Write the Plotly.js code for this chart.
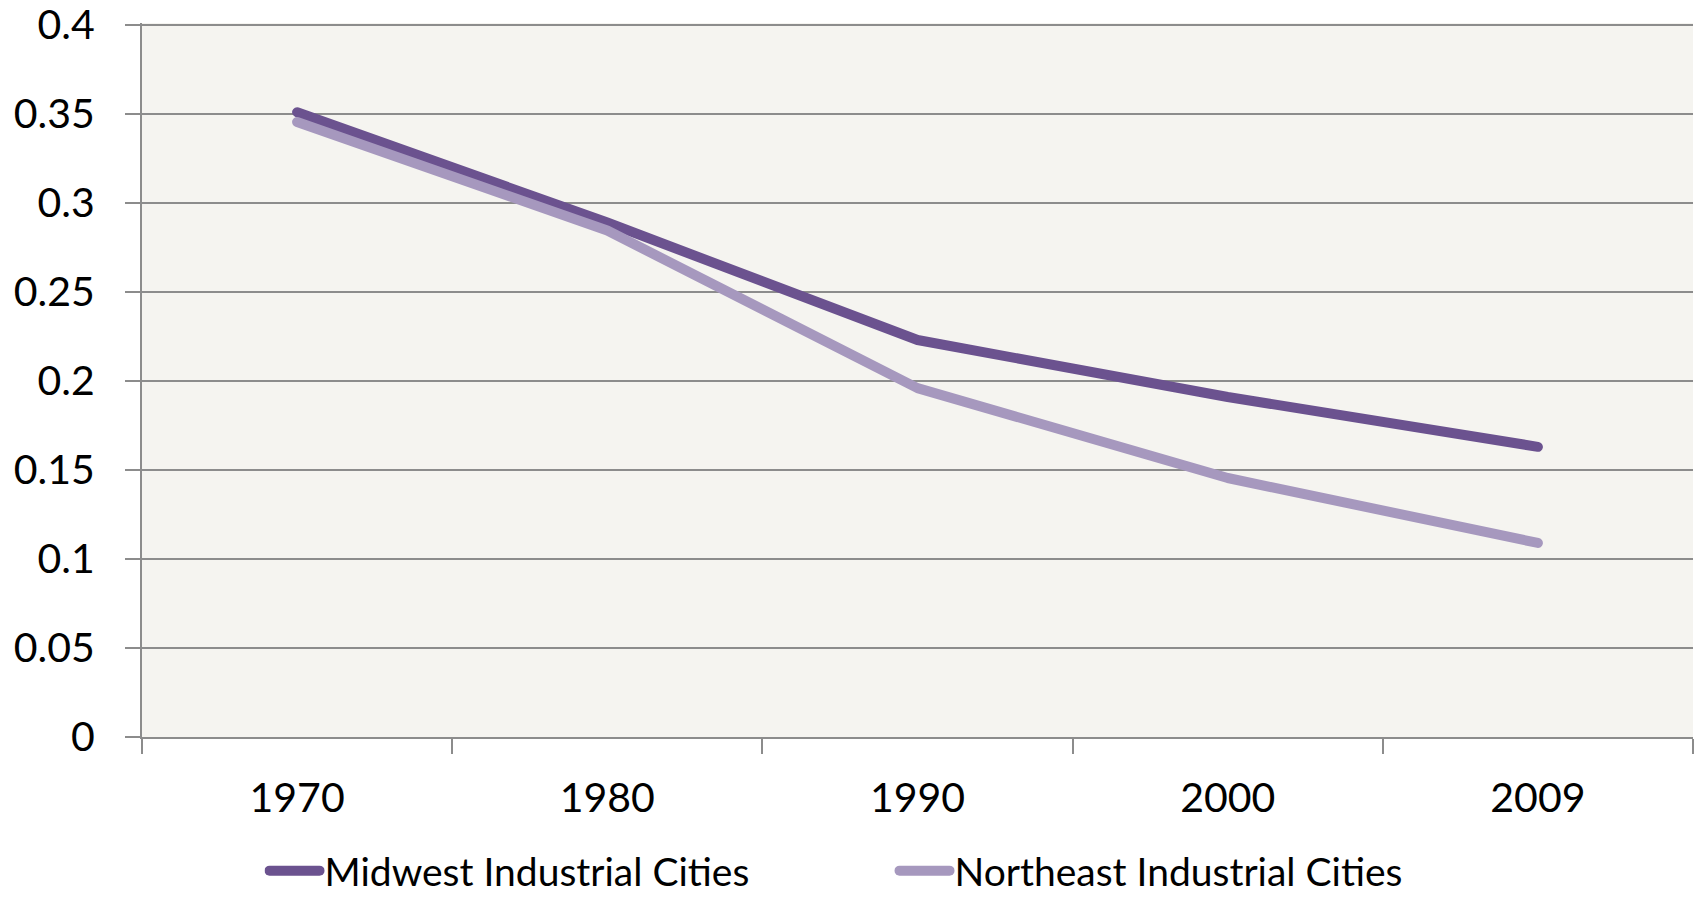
<!DOCTYPE html>
<html>
<head>
<meta charset="utf-8">
<script src="https://cdn.plot.ly/plotly-3.0.1.min.js"></script>
<style>
  html, body { margin: 0; padding: 0; background: #ffffff; }
  #chart { width: 1698px; height: 897px; }
  .js-line { stroke-linecap: round; stroke-linejoin: round; }
</style>
</head>
<body>
<div id="chart"></div>
<script>
const years = ["1970", "1980", "1990", "2000", "2009"];
const midwest = [0.351, 0.289, 0.223, 0.191, 0.163];
const northeast = [0.3455, 0.2845, 0.196, 0.1455, 0.109];
const yTickVals = [0, 0.05, 0.1, 0.15, 0.2, 0.25, 0.3, 0.35, 0.4];
const yTickText = ["0", "0.05", "0.1", "0.15", "0.2", "0.25", "0.3", "0.35", "0.4"];
const seriesNames = ["Midwest Industrial Cities", "Northeast Industrial Cities"];

const font = "Lato, 'Open Sans', sans-serif";
const gridColor = "#8c8c8c";

const traces = [
  {
    x: years, y: midwest, name: seriesNames[0], type: "scatter", mode: "lines",
    line: { color: "#6b528f", width: 10 }
  },
  {
    x: years, y: northeast, name: seriesNames[1], type: "scatter", mode: "lines",
    line: { color: "#a698be", width: 10 }
  }
];

const layout = {
  width: 1698, height: 897,
  margin: { l: 142, r: 5, t: 23, b: 160, pad: 0, autoexpand: false },
  paper_bgcolor: "#ffffff",
  plot_bgcolor: "#f5f4f0",
  font: { family: font, size: 41, color: "#000000" },
  showlegend: true,
  legend: {
    orientation: "h",
    x: 0.079, xanchor: "left",
    y: -0.1874, yanchor: "middle",
    font: { family: font, size: 39, color: "#000000" },
    itemwidth: 50,
    entrywidth: 565,
    bgcolor: "rgba(0,0,0,0)"
  },
  xaxis: {
    type: "category",
    categoryorder: "array", categoryarray: years,
    range: [-0.5, 4.5],
    showgrid: false,
    zeroline: false,
    showline: true, linecolor: gridColor, linewidth: 2,
    ticks: "outside", tickson: "boundaries", ticklen: 15, tickwidth: 2, tickcolor: gridColor,
    ticklabelstandoff: 24,
    tickfont: { family: font, size: 41, color: "#000000" },
    fixedrange: true
  },
  yaxis: {
    range: [0, 0.4011],
    tickvals: yTickVals, ticktext: yTickText,
    showgrid: true, gridcolor: gridColor, gridwidth: 2,
    zeroline: false,
    showline: true, linecolor: gridColor, linewidth: 2,
    ticks: "outside", ticklen: 15, tickwidth: 2, tickcolor: gridColor,
    ticklabelstandoff: 22,
    ticklabeloverflow: "allow",
    tickfont: { family: font, size: 41, color: "#000000" },
    fixedrange: true
  }
};

Plotly.newPlot("chart", traces, layout, { displayModeBar: false, staticPlot: true });
</script>
</body>
</html>
